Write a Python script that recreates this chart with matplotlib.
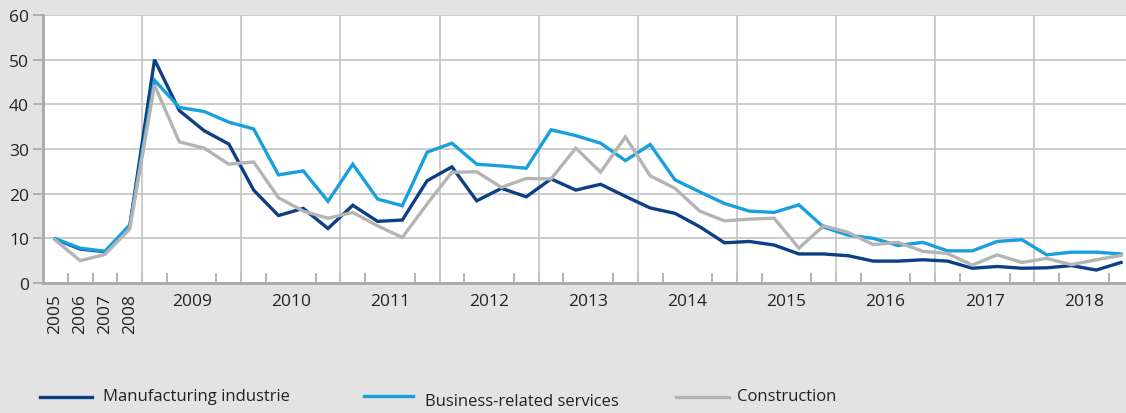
import matplotlib
matplotlib.use("Agg")
import matplotlib.pyplot as plt
from matplotlib.lines import Line2D

# ---- data ----
annual_years = ["2005", "2006", "2007", "2008"]
quarter_years = ["2009", "2010", "2011", "2012", "2013", "2014", "2015", "2016", "2017", "2018"]
quarters_per_year = 4

manufacturing = [9.8, 7.6, 7.0, 12.6,
                 50.0, 38.6, 34.1, 31.1,
                 20.8, 15.1, 16.7, 12.2,
                 17.4, 13.8, 14.1, 22.9,
                 26.0, 18.4, 21.2, 19.3,
                 23.3, 20.8, 22.1, 19.4,
                 16.8, 15.6, 12.6, 9.0,
                 9.3, 8.5, 6.5, 6.5,
                 6.1, 4.9, 4.9, 5.2,
                 4.9, 3.3, 3.7, 3.3,
                 3.4, 3.9, 2.9, 4.6]
business = [9.9, 7.8, 7.1, 13.0,
            45.4, 39.3, 38.4, 36.0,
            34.5, 24.2, 25.1, 18.3,
            26.6, 18.8, 17.3, 29.3,
            31.3, 26.6, 26.2, 25.7,
            34.3, 33.0, 31.3, 27.4,
            31.0, 23.1, 20.4, 17.8,
            16.1, 15.8, 17.5, 12.5,
            10.7, 10.0, 8.4, 9.1,
            7.2, 7.2, 9.3, 9.7,
            6.3, 6.9, 6.9, 6.5]
construction = [9.6, 5.0, 6.4, 12.1,
                44.3, 31.6, 30.2, 26.6,
                27.1, 19.1, 16.1, 14.5,
                15.8, 12.8, 10.2, 17.7,
                24.8, 24.9, 21.4, 23.4,
                23.3, 30.2, 24.8, 32.7,
                24.0, 21.2, 16.1, 13.9,
                14.3, 14.5, 7.8, 12.8,
                11.3, 8.6, 9.1, 7.1,
                6.6, 4.0, 6.3, 4.6,
                5.5, 4.1, 5.2, 6.2]
series_names = ["Manufacturing industrie", "Business-related services", "Construction"]
y_ticks = [0, 10, 20, 30, 40, 50, 60]

# ---- style ----
FONT = ["Open Sans", "DejaVu Sans"]
plt.rcParams['font.family'] = FONT
BG = "#e3e3e3"
C_DARK = "#0d3f86"
C_LIGHT = "#17a0dd"
C_GRAY = "#b4b4b4"
GRID = "#c4c4c4"
SPINE = "#a8a8a8"
TXT = "#222222"
FS = 12.5
FS_LEG = 12

fig = plt.figure(figsize=(11.26, 4.14), dpi=100, facecolor=BG)
ax = fig.add_axes([43 / 1126, 130 / 414, (1126 - 43) / 1126, 268 / 414])
ax.set_facecolor("white")

n = len(manufacturing)
x = list(range(n))
na = len(annual_years)

for vals, col, name in [(manufacturing, C_DARK, series_names[0]),
                        (business, C_LIGHT, series_names[1]),
                        (construction, C_GRAY, series_names[2])]:
    ax.plot(x, vals, color=col, lw=2.4, solid_joinstyle="miter", zorder=3)

ax.set_ylim(0, 60)
ax.set_xlim(-0.5, 43.2)
ax.set_yticks(y_ticks)
ax.set_yticklabels([str(v) for v in y_ticks], fontsize=FS, color=TXT)
ax.yaxis.grid(True, color=GRID, lw=1.2)
ax.set_axisbelow(True)

# year boundary gridlines
for k in range(len(quarter_years)):
    b = na - 0.5 + k * quarters_per_year
    ax.axvline(b, color=GRID, lw=1.2, zorder=1)

# x ticks: labels
major_pos = list(range(na)) + [na + k * quarters_per_year + 1.5 for k in range(len(quarter_years))]
ax.set_xticks(major_pos)
ax.set_xticklabels(annual_years + quarter_years, fontsize=FS, color=TXT)
ax.tick_params(axis="x", which="major", length=0, pad=7)
for i, lab in enumerate(ax.get_xticklabels()):
    if i < na:
        lab.set_rotation(90)
        lab.set_va("top")
        lab.set_ha("center")
ax.set_xticks([i + 0.5 for i in range(n - 1)], minor=True)
ax.tick_params(axis="x", which="minor", direction="in", length=7, color=SPINE, width=1.2)
ax.tick_params(axis="y", which="major", direction="out", length=7, color=SPINE, width=1.2, pad=3)

for s in ["top", "right"]:
    ax.spines[s].set_visible(False)
for s in ["left", "bottom"]:
    ax.spines[s].set_color(SPINE)
    ax.spines[s].set_linewidth(2)

# ---- legend (manual) ----
W, H = 1126, 414
legend_items = [
    (series_names[0], C_DARK, 40, 92, 398, 103, 397),
    (series_names[1], C_LIGHT, 364, 413, 397, 425, 402),
    (series_names[2], C_GRAY, 676, 729, 398, 737, 397),
]
for name, col, x0, x1, ly, tx, ty in legend_items:
    fig.add_artist(Line2D([x0 / W, x1 / W], [1 - ly / H, 1 - ly / H], color=col, lw=2.4,
                          transform=fig.transFigure))
    fig.text(tx / W, 1 - ty / H, name, fontsize=FS_LEG, color=TXT, va="center", ha="left")

fig.savefig("out.png", dpi=100, facecolor=BG)
